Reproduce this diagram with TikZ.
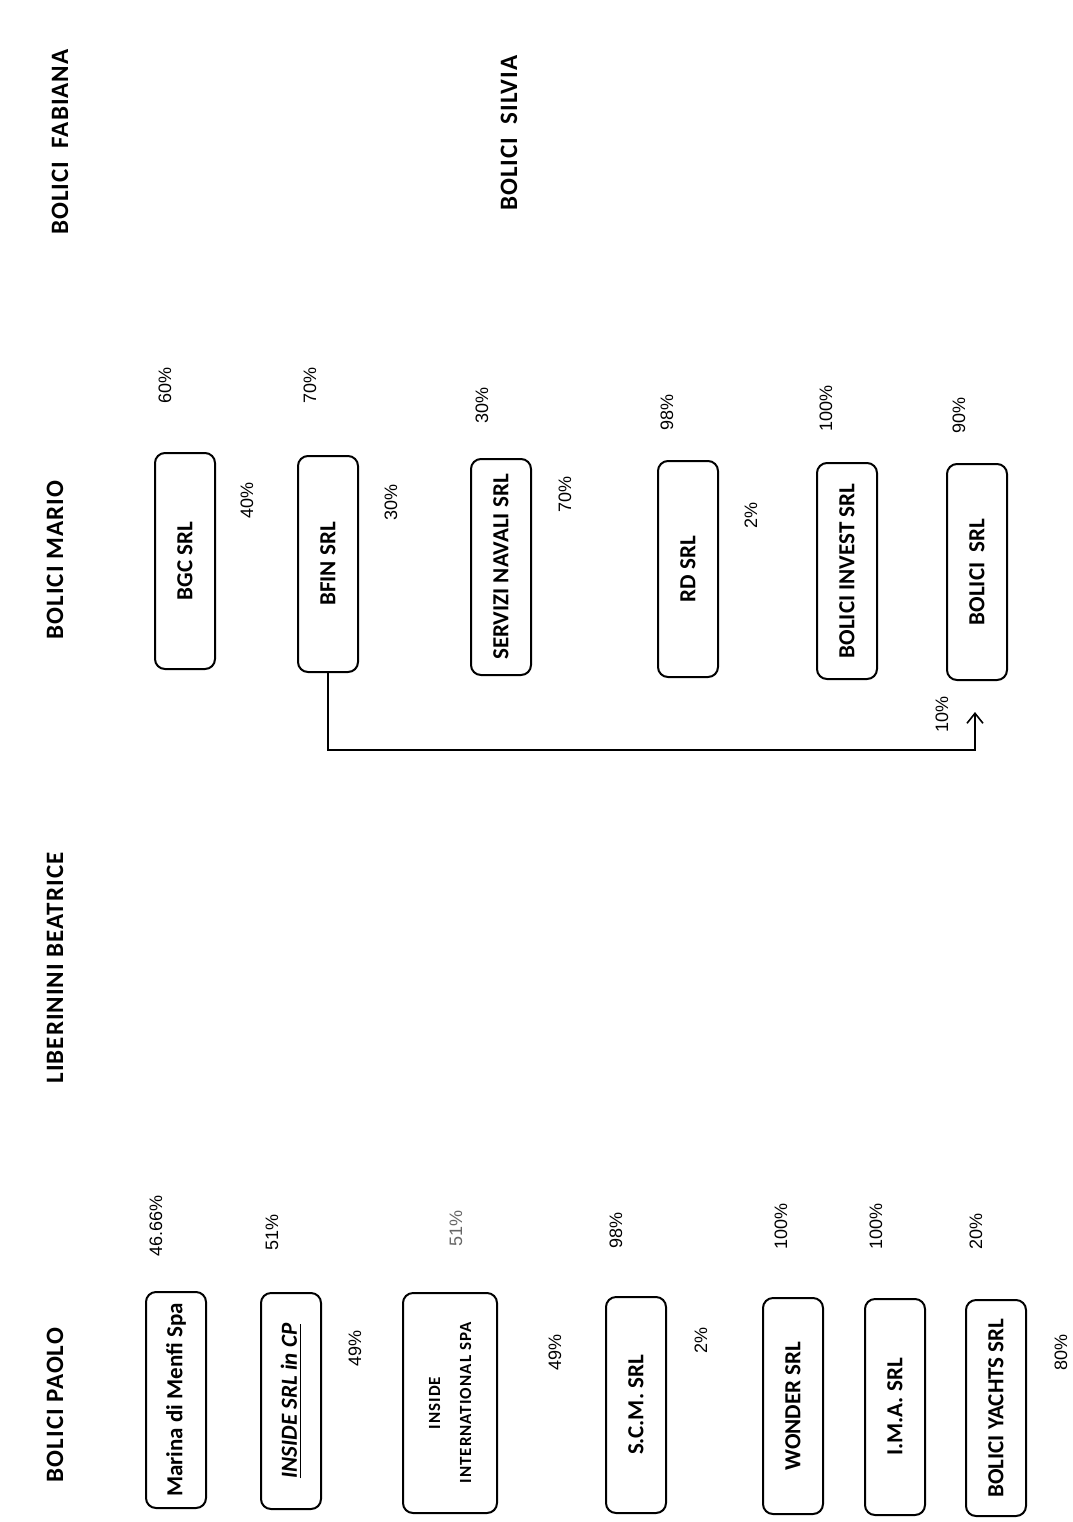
\documentclass[tikz,border=0pt]{standalone}
\usepackage{fontspec}
\setmainfont{Carlito}
\newfontfamily\pctfont{Liberation Sans}
\newfontfamily\intlfont{Carlito}[LetterSpace=6]
\newfontfamily\hdrfont{Carlito}[LetterSpace=4]
\usetikzlibrary{arrows.meta}
\begin{document}
\begin{tikzpicture}[x=0.5pt,y=-0.5pt,
  box/.style={draw, line width=1pt, rounded corners=5pt, rotate=90,
    minimum width=108pt, minimum height=30pt, inner sep=0pt, align=center,
    font=\bfseries\fontsize{11.5}{13}\selectfont},
  hdr/.style={rotate=90, inner sep=0pt, font=\hdrfont\bfseries\fontsize{12.5}{15}\selectfont},
  pct/.style={rotate=90, inner sep=0pt, font=\pctfont\fontsize{9}{10}\selectfont},
  conn/.style={line width=0.8pt, -{Straight Barb[length=5pt,width=8pt]}}]
\fill[white] (0,0) rectangle (1072,1522);
\useasboundingbox (0,0) rectangle (1072,1522);

% headers
\node[hdr] (paolo) at (55,1405) {BOLICI PAOLO};
\node[hdr] (beatrice) at (55,968) {LIBERININI BEATRICE};
\node[hdr] (mario) at (55,560) {BOLICI MARIO};
\node[hdr] (fabiana) at (60,142) {BOLICI\ \ FABIANA};
\node[hdr] (silvia) at (509,133) {BOLICI\ \ SILVIA};

% Paolo group
\node[box] (marina) at (176,1400) {Marina di Menfi Spa};
\node[box] (insidesrl) at (291,1401) {\itshape\underline{INSIDE SRL in CP}};
\node[box, minimum height=47pt, minimum width=110pt,
  font=\intlfont\bfseries\fontsize{8.5}{15.5}\selectfont] (intl) at (450,1403) {INSIDE\\INTERNATIONAL SPA};
\node[box] (scm) at (636,1405) {S.C.M. SRL};
\node[box] (wonder) at (793,1406) {WONDER SRL};
\node[box] (ima) at (895,1407) {I.M.A. SRL};
\node[box] (yachts) at (996,1408) {BOLICI YACHTS SRL};

\node[pct] (p1) at (156,1226) {46.66\%};
\node[pct] (p2) at (272,1232) {51\%};
\node[pct, text=black!60] (p3) at (456,1228) {51\%};
\node[pct] (p4) at (616,1230) {98\%};
\node[pct] (p5) at (781,1226) {100\%};
\node[pct] (p6) at (876,1226) {100\%};
\node[pct] (p7) at (976,1231) {20\%};
\node[pct] (q1) at (355,1348) {49\%};
\node[pct] (q2) at (555,1352) {49\%};
\node[pct] (q3) at (701,1340) {2\%};
\node[pct] (q4) at (1061,1352) {80\%};

% Mario group
\node[box] (bgc) at (185,561) {BGC SRL};
\node[box] (bfin) at (328,564) {BFIN SRL};
\node[box] (servizi) at (501,567) {SERVIZI NAVALI SRL};
\node[box] (rd) at (688,569) {RD SRL};
\node[box] (invest) at (847,571) {BOLICI INVEST SRL};
\node[box] (bolsrl) at (977,572) {BOLICI\ \ SRL};

\node[pct] (m1) at (165,385) {60\%};
\node[pct] (m2) at (310,385) {70\%};
\node[pct] (m3) at (482,405) {30\%};
\node[pct] (m4) at (667,412) {98\%};
\node[pct] (m5) at (826,408) {100\%};
\node[pct] (m6) at (959,415) {90\%};
\node[pct] (n1) at (247,500) {40\%};
\node[pct] (n2) at (391,502) {30\%};
\node[pct] (n3) at (565,494) {70\%};
\node[pct] (n4) at (751,515) {2\%};
\node[pct] (n5) at (942,714) {10\%};

% connector BFIN -> BOLICI SRL
\coordinate (tip) at (975,712);
\coordinate (elbow) at (975,750);
\draw[conn] (bfin.west) |- (elbow) -- (tip);
\end{tikzpicture}
\end{document}
